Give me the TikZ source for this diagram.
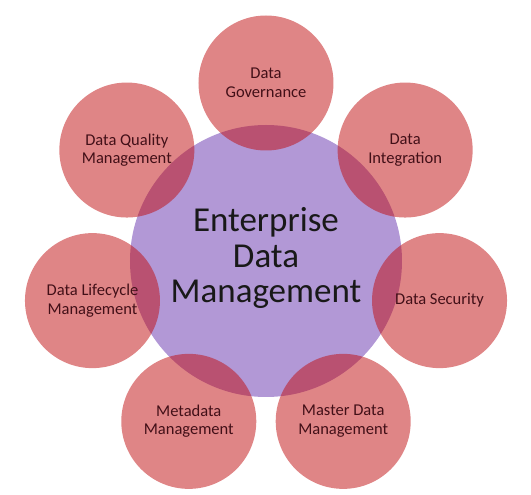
\documentclass[tikz,border=0pt]{standalone}
\usepackage{fontspec}
\setmainfont{Carlito}
\usetikzlibrary{positioning}

\definecolor{edmPurple}{RGB}{178,152,214}
\definecolor{areaRed}{RGB}{192,12,14}
\definecolor{areaText}{RGB}{66,16,24}

\begin{document}
\begin{tikzpicture}[
    x=1pt, y=1pt,
    hub/.style={circle, minimum size=272pt, inner sep=0pt, fill=edmPurple},
    hubtext/.style={align=center, text=black!90, font=\fontsize{35}{35.5}\selectfont},
    area/.style={circle, minimum size=135pt, inner sep=0pt, fill=areaRed, fill opacity=0.5, text opacity=1, text=areaText, text centered, align=center, font=\fontsize{16.5}{18.5}\selectfont}
]
\useasboundingbox (-266,-234) rectangle (265,261);

% Centre
\node (edm) [hub] at (0,0) {};
\node (edmLabel) [hubtext] at (0,3) {Enterprise\\Data\\Management};

% Areas around the centre
\node (governance) [area] at (90:178pt) {Data\\Governance};
\node (integration) [area] at (38.57:178pt) {Data\\Integration};
\node (security) [area] at (-12.86:178pt) {Data Security};
\node (master) [area] at (-64.29:178pt) {Master Data\\Management};
\node (metadata) [area] at (-115.71:178pt) {Metadata\\Management};
\node (lifecycle) [area] at (-167.14:178pt) {Data Lifecycle\\Management};
\node (quality) [area] at (141.43:178pt) {Data Quality\\Management};

\end{tikzpicture}
\end{document}
